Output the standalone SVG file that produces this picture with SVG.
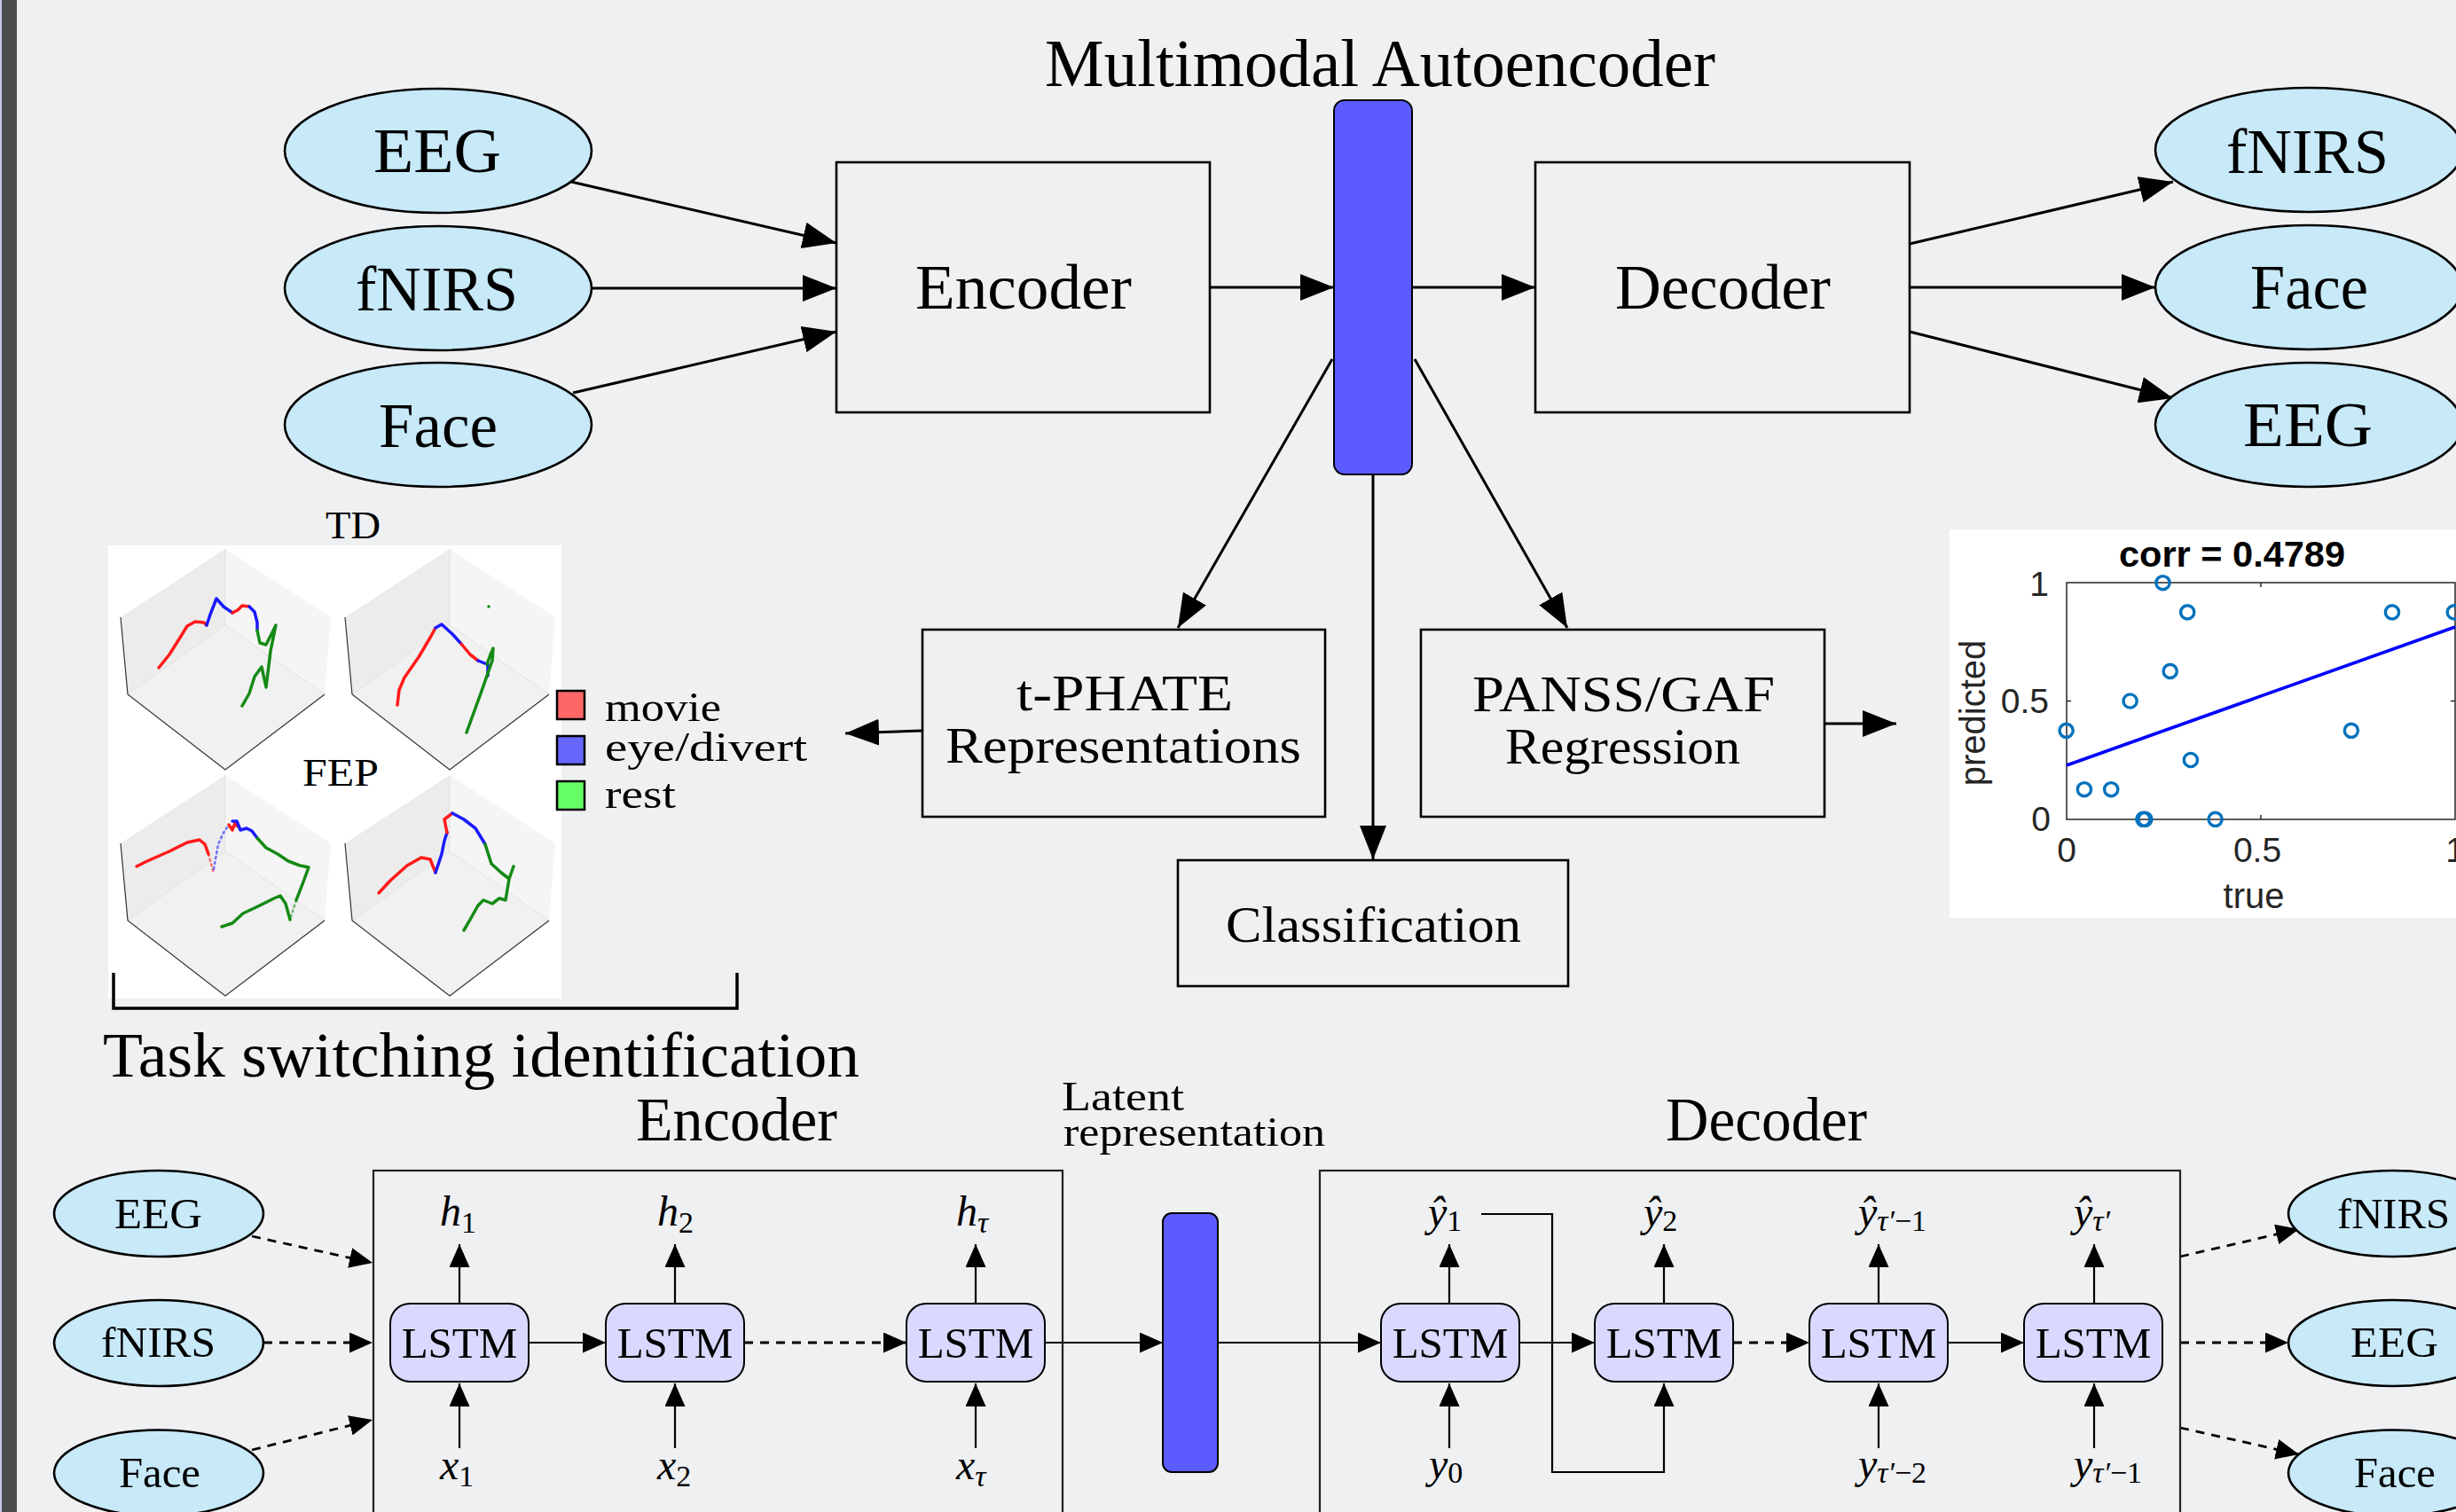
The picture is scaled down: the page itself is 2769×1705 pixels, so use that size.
<svg xmlns="http://www.w3.org/2000/svg" width="2769" height="1705" viewBox="0 0 2769 1705">
<defs>
<style>
.t{font-family:"Liberation Serif","Times New Roman",serif;fill:#000}
.m{font-family:"Liberation Serif","Times New Roman",serif;font-style:italic;font-size:48px;fill:#000}
.sub{font-size:34px}
.up{font-style:normal}
.ell{fill:#c7e9f8;stroke:#000;stroke-width:2.6}
.box{fill:none;stroke:#000;stroke-width:2.6}
.bx2{fill:none;stroke:#222;stroke-width:2.2}
.lstm{fill:#d9d9ff;stroke:#000;stroke-width:2}
.bar{fill:#5b5bff;stroke:#000;stroke-width:2}
.c{stroke:#000;stroke-width:3;fill:none}
.cs{stroke:#000;stroke-width:2.2;fill:none}
.cd{stroke:#000;stroke-width:2.8;fill:none;stroke-dasharray:10 8}
.p{font-family:"Liberation Sans",Arial,sans-serif;fill:#262626}
.ax{stroke:#262626;stroke-width:1.5;fill:none}
.pt{fill:none;stroke:#0072bd;stroke-width:3.4}
.r{stroke:#ff1a1a;stroke-width:3.5;fill:none;stroke-linecap:round;stroke-linejoin:round}
.b{stroke:#1a1aff;stroke-width:3.5;fill:none;stroke-linecap:round;stroke-linejoin:round}
.g{stroke:#158a15;stroke-width:3.5;fill:none;stroke-linecap:round;stroke-linejoin:round}
.fr{stroke-width:2.5;stroke-dasharray:2 4;opacity:0.6}
</style>
<marker id="ah" markerUnits="userSpaceOnUse" viewBox="0 0 38 30" markerWidth="38" markerHeight="30" refX="38" refY="15" orient="auto"><path d="M0,0 L38,15 L0,30 z" fill="#000"/></marker>
<marker id="as" markerUnits="userSpaceOnUse" viewBox="0 0 26 23" markerWidth="26" markerHeight="23" refX="26" refY="11.5" orient="auto"><path d="M0,0 L26,11.5 L0,23 z" fill="#000"/></marker>
<g id="cube">
<path d="M254,619 L136,696 L144,783 L254,705 Z" fill="#ececec"/>
<path d="M254,619 L373,696 L366,783 L254,705 Z" fill="#f5f5f5"/>
<path d="M254,705 L144,783 L254,868 L366,783 Z" fill="#f1f1f1"/>
<path d="M254,619 L254,705 M254,705 L144,783 M254,705 L366,783" stroke="#e2e2e2" stroke-width="1" fill="none"/>
<path d="M136,696 L144,783 L254,868 L366,783" stroke="#333" stroke-width="1.2" fill="none"/>
</g>
</defs>

<rect x="0" y="0" width="2769" height="1705" fill="#eff0f2"/>
<rect x="0" y="0" width="2" height="1705" fill="#c9c6ee"/>
<rect x="2" y="0" width="17" height="1705" fill="#4b4c4e"/>

<text class="t" x="1178" y="97" font-size="76" textLength="756" lengthAdjust="spacingAndGlyphs">Multimodal Autoencoder</text>

<g id="connectors">
<line class="c" x1="644" y1="205" x2="943" y2="274" marker-end="url(#ah)"/>
<line class="c" x1="667" y1="325" x2="943" y2="325" marker-end="url(#ah)"/>
<line class="c" x1="646" y1="443" x2="943" y2="374" marker-end="url(#ah)"/>
<line class="c" x1="1364" y1="324" x2="1504" y2="324" marker-end="url(#ah)"/>
<line class="c" x1="1592" y1="324" x2="1731" y2="324" marker-end="url(#ah)"/>
<line class="c" x1="2153" y1="275" x2="2450" y2="205" marker-end="url(#ah)"/>
<line class="c" x1="2153" y1="324" x2="2430" y2="324" marker-end="url(#ah)"/>
<line class="c" x1="2153" y1="374" x2="2450" y2="449" marker-end="url(#ah)"/>
<line class="c" x1="1502" y1="405" x2="1328" y2="708" marker-end="url(#ah)"/>
<line class="c" x1="1595" y1="405" x2="1767" y2="708" marker-end="url(#ah)"/>
<line class="c" x1="1548" y1="535" x2="1548" y2="969" marker-end="url(#ah)"/>
<line class="c" x1="1039" y1="824" x2="953" y2="827" marker-end="url(#ah)"/>
<line class="c" x1="2057" y1="816" x2="2138" y2="816" marker-end="url(#ah)"/>

<line class="cd" x1="284" y1="1394" x2="420" y2="1424" marker-end="url(#as)"/>
<line class="cd" x1="297" y1="1514" x2="420" y2="1514" marker-end="url(#as)"/>
<line class="cd" x1="284" y1="1635" x2="420" y2="1601" marker-end="url(#as)"/>
<line class="cs" x1="596" y1="1514" x2="683" y2="1514" marker-end="url(#as)"/>
<line class="cd" x1="839" y1="1514" x2="1022" y2="1514" marker-end="url(#as)"/>
<line class="cs" x1="1178" y1="1514" x2="1311" y2="1514" marker-end="url(#as)"/>
<line class="cs" x1="1373" y1="1514" x2="1557" y2="1514" marker-end="url(#as)"/>
<line class="cs" x1="1713" y1="1514" x2="1798" y2="1514" marker-end="url(#as)"/>
<line class="cd" x1="1954" y1="1514" x2="2040" y2="1514" marker-end="url(#as)"/>
<line class="cs" x1="2196" y1="1514" x2="2282" y2="1514" marker-end="url(#as)"/>
<line class="cd" x1="2458" y1="1417" x2="2592" y2="1386" marker-end="url(#as)"/>
<line class="cd" x1="2458" y1="1514" x2="2580" y2="1514" marker-end="url(#as)"/>
<line class="cd" x1="2458" y1="1610" x2="2592" y2="1640" marker-end="url(#as)"/>

<line class="cs" x1="518" y1="1470" x2="518" y2="1403" marker-end="url(#as)"/>
<line class="cs" x1="761" y1="1470" x2="761" y2="1403" marker-end="url(#as)"/>
<line class="cs" x1="1100" y1="1470" x2="1100" y2="1403" marker-end="url(#as)"/>
<line class="cs" x1="518" y1="1633" x2="518" y2="1560" marker-end="url(#as)"/>
<line class="cs" x1="761" y1="1633" x2="761" y2="1560" marker-end="url(#as)"/>
<line class="cs" x1="1100" y1="1633" x2="1100" y2="1560" marker-end="url(#as)"/>

<line class="cs" x1="1634" y1="1470" x2="1634" y2="1403" marker-end="url(#as)"/>
<line class="cs" x1="1876" y1="1470" x2="1876" y2="1403" marker-end="url(#as)"/>
<line class="cs" x1="2118" y1="1470" x2="2118" y2="1403" marker-end="url(#as)"/>
<line class="cs" x1="2361" y1="1470" x2="2361" y2="1403" marker-end="url(#as)"/>
<line class="cs" x1="1634" y1="1633" x2="1634" y2="1560" marker-end="url(#as)"/>
<line class="cs" x1="2118" y1="1633" x2="2118" y2="1560" marker-end="url(#as)"/>
<line class="cs" x1="2361" y1="1633" x2="2361" y2="1560" marker-end="url(#as)"/>
<path class="cs" d="M1670,1369 H1750 V1660 H1876 V1560" marker-end="url(#as)"/>
</g>

<g id="in-eeg"><ellipse class="ell" cx="494" cy="170" rx="173" ry="70"/><text class="t" x="421" y="194" font-size="72" textLength="144" lengthAdjust="spacingAndGlyphs">EEG</text></g>
<g id="in-fnirs"><ellipse class="ell" cx="494" cy="325" rx="173" ry="70"/><text class="t" x="401" y="350" font-size="72" textLength="183" lengthAdjust="spacingAndGlyphs">fNIRS</text></g>
<g id="in-face"><ellipse class="ell" cx="494" cy="479" rx="173" ry="70"/><text class="t" x="427" y="504" font-size="72" textLength="134" lengthAdjust="spacingAndGlyphs">Face</text></g>

<g id="encoder"><rect class="box" x="943" y="183" width="421" height="282"/><text class="t" x="1032" y="348" font-size="72" textLength="244" lengthAdjust="spacingAndGlyphs">Encoder</text></g>
<g id="latent-top"><rect class="bar" x="1504" y="113" width="88" height="422" rx="12"/></g>
<g id="decoder"><rect class="box" x="1731" y="183" width="422" height="282"/><text class="t" x="1821" y="348" font-size="72" textLength="243" lengthAdjust="spacingAndGlyphs">Decoder</text></g>

<g id="out-fnirs"><ellipse class="ell" cx="2603" cy="169" rx="173" ry="70"/><text class="t" x="2510" y="195" font-size="72" textLength="183" lengthAdjust="spacingAndGlyphs">fNIRS</text></g>
<g id="out-face"><ellipse class="ell" cx="2603" cy="324" rx="173" ry="70"/><text class="t" x="2537" y="348" font-size="72" textLength="133" lengthAdjust="spacingAndGlyphs">Face</text></g>
<g id="out-eeg"><ellipse class="ell" cx="2603" cy="479" rx="173" ry="70"/><text class="t" x="2529" y="503" font-size="72" textLength="146" lengthAdjust="spacingAndGlyphs">EEG</text></g>

<g id="tphate"><rect class="box" x="1040" y="710" width="454" height="211"/>
<text class="t" x="1146" y="801" font-size="58" textLength="244" lengthAdjust="spacingAndGlyphs">t-PHATE</text>
<text class="t" x="1066" y="860" font-size="58" textLength="401" lengthAdjust="spacingAndGlyphs">Representations</text></g>
<g id="panss"><rect class="box" x="1602" y="710" width="455" height="211"/>
<text class="t" x="1660" y="802" font-size="58" textLength="341" lengthAdjust="spacingAndGlyphs">PANSS/GAF</text>
<text class="t" x="1697" y="861" font-size="58" textLength="265" lengthAdjust="spacingAndGlyphs">Regression</text></g>
<g id="classification"><rect class="box" x="1328" y="970" width="440" height="142"/>
<text class="t" x="1382" y="1062" font-size="58" textLength="333" lengthAdjust="spacingAndGlyphs">Classification</text></g>

<g id="task-switching">
<text class="t" x="367" y="607" font-size="44" textLength="62" lengthAdjust="spacingAndGlyphs">TD</text>
<rect x="122" y="615" width="511" height="511" fill="#fff"/>
<use href="#cube"/>
<use href="#cube" transform="translate(253,0)"/>
<use href="#cube" transform="translate(0,255)"/>
<use href="#cube" transform="translate(253,255)"/>
<text class="t" x="341" y="886" font-size="44" textLength="86" lengthAdjust="spacingAndGlyphs">FEP</text>
<polyline class="r" points="179,753 191,738 203,719 211,706 220,701 230,702 233,705"/>
<polyline class="b" points="233,705 237,693 244,675 252,684 262,691"/>
<polyline class="r" points="262,691 268,688 273,683 281,684"/>
<polyline class="b" points="281,684 287,690 290,702 290,711"/>
<polyline class="g" points="290,711 293,725 300,727 306,715 311,705 305,734 300,775 295,752 287,763 281,782 273,796"/>
<polyline class="r" points="448,795 450,778 456,764 472,741 485,719 491,708"/>
<polyline class="b" points="491,708 498,704 510,715 520,726"/>
<polyline class="r" points="520,726 530,738 539,745"/>
<polyline class="b" points="539,745 549,749"/>
<polyline class="b" points="550,749 550,762" stroke-width="2"/>
<polyline class="g" points="549,749 553,738 556,731 555,745 542,782 526,826"/>
<circle cx="551" cy="684" r="1.8" fill="#158a15"/>
<polyline class="r" points="154,977 166,971 191,960 211,950 225,947 231,952 235,963"/>
<polyline class="r fr" points="235,963 241,985"/>
<polyline class="b fr" points="241,980 246,952 252,939 258,930"/>
<polyline class="r" points="258,930 262,936 265,928 268,932"/>
<polyline class="b" points="262,926 267,926 271,936 278,934 284,937 290,945"/>
<polyline class="g" points="290,945 300,956 313,963 325,971 338,976 348,978 341,997 334,1015"/>
<polyline class="g fr" points="334,1015 327,1037"/>
<polyline class="g" points="327,1037 322,1019 316,1010 309,1013 293,1021 274,1030 262,1041 250,1045"/>
<polyline class="r" points="427,1007 440,993 459,976 475,967 485,969 491,984"/>
<polyline class="b" points="491,984 498,963 501,948 504,939"/>
<polyline class="r" points="504,939 501,924 510,917"/>
<polyline class="b" points="510,917 523,924 536,934 547,952"/>
<polyline class="g" points="547,952 554,974 565,984 574,991 579,977 574,991 570,1015 563,1013 555,1019 545,1015 539,1021 530,1037 523,1049"/>
<rect x="628" y="779" width="31" height="32" fill="#ff6666" stroke="#000" stroke-width="2.5"/>
<rect x="628" y="830" width="31" height="32" fill="#6666ff" stroke="#000" stroke-width="2.5"/>
<rect x="628" y="881" width="31" height="32" fill="#66ff66" stroke="#000" stroke-width="2.5"/>
<text class="t" x="682" y="813" font-size="46" textLength="131" lengthAdjust="spacingAndGlyphs">movie</text>
<text class="t" x="682" y="858" font-size="46" textLength="228" lengthAdjust="spacingAndGlyphs">eye/divert</text>
<text class="t" x="682" y="911" font-size="46" textLength="80" lengthAdjust="spacingAndGlyphs">rest</text>
<path d="M128,1097 V1137 H831 V1097" fill="none" stroke="#000" stroke-width="3.5"/>
<text class="t" x="116" y="1214" font-size="72" textLength="853" lengthAdjust="spacingAndGlyphs">Task switching identification</text>
</g>

<g id="scatter-plot">
<rect x="2198" y="597" width="571" height="438" fill="#fff"/>
<rect class="ax" x="2330" y="657" width="438" height="267"/>
<path class="ax" d="M2549,924 v-5 M2549,657 v5 M2330,790.5 h5 M2768,790.5 h-5"/>
<text class="p" x="2389" y="639" font-size="40" font-weight="bold" style="fill:#000" textLength="255" lengthAdjust="spacingAndGlyphs">corr = 0.4789</text>
<text class="p" x="2310" y="672" font-size="39" text-anchor="end">1</text>
<text class="p" x="2310" y="804" font-size="39" text-anchor="end">0.5</text>
<text class="p" x="2312" y="937" font-size="39" text-anchor="end">0</text>
<text class="p" x="2330" y="972" font-size="39" text-anchor="middle">0</text>
<text class="p" x="2545" y="972" font-size="39" text-anchor="middle">0.5</text>
<text class="p" x="2768" y="972" font-size="39" text-anchor="middle">1</text>
<text class="p" x="2541" y="1024" font-size="40" text-anchor="middle">true</text>
<text class="p" x="0" y="0" font-size="40" text-anchor="middle" transform="translate(2238,804) rotate(-90)">predicted</text>
<line x1="2330" y1="863" x2="2768" y2="707" stroke="#0000ff" stroke-width="3.6"/>
<circle class="pt" cx="2438.5" cy="657.2" r="7.6"/>
<circle class="pt" cx="2466.2" cy="690.4" r="7.6"/>
<circle class="pt" cx="2697" cy="690.4" r="7.6"/>
<circle class="pt" cx="2766.8" cy="690.4" r="7.6"/>
<circle class="pt" cx="2446.7" cy="756.9" r="7.6"/>
<circle class="pt" cx="2401.6" cy="790.5" r="7.6"/>
<circle class="pt" cx="2329.6" cy="823.8" r="7.6"/>
<circle class="pt" cx="2650.9" cy="823.8" r="7.6"/>
<circle class="pt" cx="2469.9" cy="857" r="7.6"/>
<circle class="pt" cx="2349.9" cy="890.2" r="7.6"/>
<circle class="pt" cx="2380.2" cy="890.2" r="7.6"/>
<circle class="pt" cx="2416.4" cy="923.8" r="7.6"/>
<circle class="pt" cx="2418.4" cy="923.8" r="7.6"/>
<circle class="pt" cx="2497.6" cy="923.8" r="7.6"/>
</g>

<g id="seq-in-eeg"><ellipse class="ell" cx="179" cy="1368.5" rx="118" ry="48.5" stroke-width="2"/><text class="t" x="129" y="1385" font-size="48" textLength="99" lengthAdjust="spacingAndGlyphs">EEG</text></g>
<g id="seq-in-fnirs"><ellipse class="ell" cx="179" cy="1514.5" rx="118" ry="48.5" stroke-width="2"/><text class="t" x="114" y="1530" font-size="48" textLength="129" lengthAdjust="spacingAndGlyphs">fNIRS</text></g>
<g id="seq-in-face"><ellipse class="ell" cx="179" cy="1661" rx="118" ry="48.5" stroke-width="2"/><text class="t" x="134" y="1677" font-size="48" textLength="92" lengthAdjust="spacingAndGlyphs">Face</text></g>

<g id="seq-encoder"><rect class="bx2" x="421" y="1320" width="777" height="420"/>
<text class="t" x="717" y="1286" font-size="70" textLength="227" lengthAdjust="spacingAndGlyphs">Encoder</text></g>
<g id="enc-lstm1"><rect class="lstm" x="440" y="1470" width="156" height="88" rx="22"/><text class="t" x="518" y="1531" font-size="49" text-anchor="middle">LSTM</text></g>
<g id="enc-lstm2"><rect class="lstm" x="683" y="1470" width="156" height="88" rx="22"/><text class="t" x="761" y="1531" font-size="49" text-anchor="middle">LSTM</text></g>
<g id="enc-lstm3"><rect class="lstm" x="1022" y="1470" width="156" height="88" rx="22"/><text class="t" x="1100" y="1531" font-size="49" text-anchor="middle">LSTM</text></g>
<text class="m" x="496" y="1382">h<tspan class="sub up" dy="8">1</tspan></text>
<text class="m" x="741" y="1382">h<tspan class="sub up" dy="8">2</tspan></text>
<text class="m" x="1078" y="1382">h<tspan class="sub" dy="8">τ</tspan></text>
<text class="m" x="496" y="1668">x<tspan class="sub up" dy="8">1</tspan></text>
<text class="m" x="741" y="1668">x<tspan class="sub up" dy="8">2</tspan></text>
<text class="m" x="1078" y="1668">x<tspan class="sub" dy="8">τ</tspan></text>

<g id="latent-bottom">
<text class="t" x="1197" y="1252" font-size="47" textLength="138" lengthAdjust="spacingAndGlyphs">Latent</text>
<text class="t" x="1199" y="1292" font-size="47" textLength="295" lengthAdjust="spacingAndGlyphs">representation</text>
<rect class="bar" x="1311" y="1368" width="62" height="292" rx="10"/></g>

<g id="seq-decoder"><rect class="bx2" x="1488" y="1320" width="970" height="420"/>
<text class="t" x="1878" y="1286" font-size="70" textLength="227" lengthAdjust="spacingAndGlyphs">Decoder</text></g>
<g id="dec-lstm1"><rect class="lstm" x="1557" y="1470" width="156" height="88" rx="22"/><text class="t" x="1635" y="1531" font-size="49" text-anchor="middle">LSTM</text></g>
<g id="dec-lstm2"><rect class="lstm" x="1798" y="1470" width="156" height="88" rx="22"/><text class="t" x="1876" y="1531" font-size="49" text-anchor="middle">LSTM</text></g>
<g id="dec-lstm3"><rect class="lstm" x="2040" y="1470" width="156" height="88" rx="22"/><text class="t" x="2118" y="1531" font-size="49" text-anchor="middle">LSTM</text></g>
<g id="dec-lstm4"><rect class="lstm" x="2282" y="1470" width="156" height="88" rx="22"/><text class="t" x="2360" y="1531" font-size="49" text-anchor="middle">LSTM</text></g>
<text class="m" x="1610" y="1383">ŷ<tspan class="sub up" dy="5">1</tspan></text>
<text class="m" x="1853" y="1383">ŷ<tspan class="sub up" dy="5">2</tspan></text>
<text class="m" x="2095" y="1383">ŷ<tspan class="sub" dy="5">τ′<tspan class="up">−1</tspan></tspan></text>
<text class="m" x="2338" y="1383">ŷ<tspan class="sub" dy="5">τ′</tspan></text>
<text class="m" x="1611" y="1667">y<tspan class="sub up" dy="5">0</tspan></text>
<text class="m" x="2095" y="1667">y<tspan class="sub" dy="5">τ′<tspan class="up">−2</tspan></tspan></text>
<text class="m" x="2338" y="1667">y<tspan class="sub" dy="5">τ′<tspan class="up">−1</tspan></tspan></text>

<g id="seq-out-fnirs"><ellipse class="ell" cx="2698" cy="1368.5" rx="118" ry="48.5" stroke-width="2"/><text class="t" x="2635" y="1385" font-size="48" textLength="127" lengthAdjust="spacingAndGlyphs">fNIRS</text></g>
<g id="seq-out-eeg"><ellipse class="ell" cx="2698" cy="1514.5" rx="118" ry="48.5" stroke-width="2"/><text class="t" x="2650" y="1530" font-size="48" textLength="99" lengthAdjust="spacingAndGlyphs">EEG</text></g>
<g id="seq-out-face"><ellipse class="ell" cx="2698" cy="1661" rx="118" ry="48.5" stroke-width="2"/><text class="t" x="2654" y="1677" font-size="48" textLength="92" lengthAdjust="spacingAndGlyphs">Face</text></g>
</svg>
